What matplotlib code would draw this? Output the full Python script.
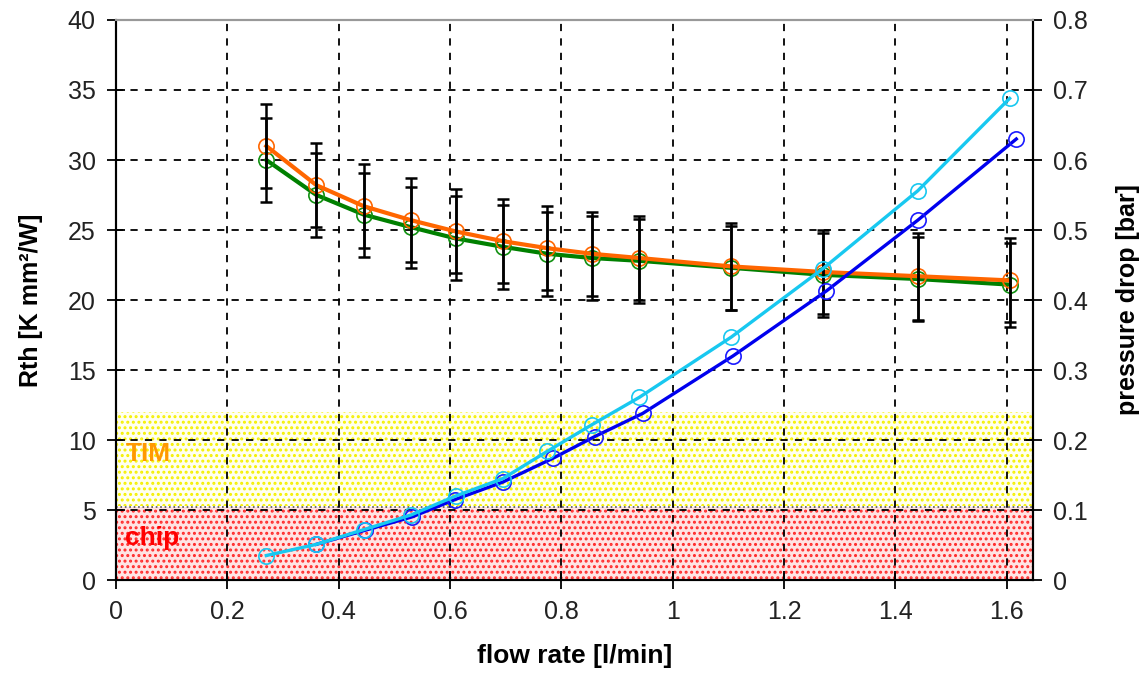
import matplotlib.pyplot as plt

plt.rcParams['font.family'] = ['Liberation Sans', 'DejaVu Sans']
plt.rcParams['hatch.linewidth'] = 1.4

# flow rate [l/min]
flow = [0.27, 0.36, 0.445, 0.53, 0.61, 0.695, 0.775, 0.855, 0.94, 1.105, 1.27, 1.44, 1.605]
rth_orange = [31.0, 28.2, 26.7, 25.7, 24.9, 24.2, 23.7, 23.3, 23.0, 22.4, 22.0, 21.7, 21.4]
rth_green = [30.0, 27.5, 26.1, 25.2, 24.4, 23.8, 23.3, 23.0, 22.8, 22.3, 21.8, 21.5, 21.1]
err_orange = [3.0, 3.0, 3.0, 3.0, 3.0, 3.0, 3.0, 3.0, 3.0, 3.1, 3.0, 3.1, 3.0]
err_green = [3.0, 3.0, 3.0, 2.9, 3.0, 3.0, 3.0, 3.0, 3.0, 3.0, 3.0, 3.0, 3.0]

# pressure drop [bar]
flow_cyan = flow
dp_cyan = [0.035, 0.051, 0.072, 0.093, 0.12, 0.145, 0.184, 0.222, 0.261, 0.347, 0.445, 0.556, 0.688]
flow_blue = [0.36, 0.447, 0.531, 0.609, 0.695, 0.785, 0.86, 0.946, 1.108, 1.276, 1.44, 1.617]
dp_blue = [0.051, 0.071, 0.09, 0.115, 0.14, 0.174, 0.205, 0.238, 0.32, 0.413, 0.514, 0.63]

xticks = [0, 0.2, 0.4, 0.6, 0.8, 1.0, 1.2, 1.4, 1.6]
xticklabels = ['0', '0.2', '0.4', '0.6', '0.8', '1', '1.2', '1.4', '1.6']
yticks = [0, 5, 10, 15, 20, 25, 30, 35, 40]
y2ticks = [0, 0.1, 0.2, 0.3, 0.4, 0.5, 0.6, 0.7, 0.8]
y2ticklabels = ['0', '0.1', '0.2', '0.3', '0.4', '0.5', '0.6', '0.7', '0.8']

# shaded regions (Rth)
chip_band = (0, 5.2)
tim_band = (5.3, 12.0)

fig = plt.figure(figsize=(11.46, 6.87), dpi=100)
ax = fig.add_axes([0.1012, 0.1557, 0.8002, 0.8152])
ax2 = ax.twinx()

ax.axhspan(*chip_band, facecolor='#ffe4e4', edgecolor='#ff2a2a', hatch='...', linewidth=0, zorder=0.5)
ax.axhspan(*tim_band, facecolor='#fffff0', edgecolor='#f5f000', hatch='...', linewidth=0, zorder=0.5)
ax.axhline(chip_band[1], color='#555555', linestyle=':', linewidth=1.2, zorder=0.6)
ax.text(0.017, 9.0, 'TIM', color='#ff9900', fontsize=19, fontweight='bold', va='center', zorder=5)
ax.text(0.017, 3.0, 'chip', color='#ff0000', fontsize=19, fontweight='bold', va='center', zorder=5)

ax.errorbar(flow, rth_green, yerr=err_green, fmt='none', ecolor='black', elinewidth=1.8,
            capsize=4, capthick=1.8, zorder=4)
ax.errorbar(flow, rth_orange, yerr=err_orange, fmt='none', ecolor='black', elinewidth=1.8,
            capsize=4, capthick=1.8, zorder=4)
ax.plot(flow, rth_green, color='#008000', linewidth=3, marker='o', markersize=11,
        markerfacecolor='none', markeredgecolor='#109010', markeredgewidth=1.2, zorder=3)
ax.plot(flow, rth_orange, color='#ff6600', linewidth=3, marker='o', markersize=11,
        markerfacecolor='none', markeredgecolor='#ff6600', markeredgewidth=1.2, zorder=3)

ax2.plot(flow_blue, dp_blue, color='#0000ee', linewidth=2.4, marker='o', markersize=11,
         markerfacecolor='none', markeredgecolor='#1a1aff', markeredgewidth=1.2)
ax2.plot(flow_cyan, dp_cyan, color='#18c8f0', linewidth=2.4, marker='o', markersize=11,
         markerfacecolor='none', markeredgecolor='#18c8f0', markeredgewidth=1.2)

ax.set_xlim(0, 1.647)
ax.set_ylim(0, 40)
ax2.set_ylim(0, 0.8)
ax.set_xticks(xticks)
ax.set_xticklabels(xticklabels)
ax.set_yticks(yticks)
ax2.set_yticks(y2ticks)
ax2.set_yticklabels(y2ticklabels)

ax.grid(True, color='black', linestyle=(0, (4, 4)), linewidth=1.3)
ax.tick_params(direction='inout', length=13, width=1.3, labelsize=18, pad=8, colors='black',
               labelcolor='#222222')
ax2.tick_params(direction='inout', length=13, width=1.3, labelsize=18, pad=8, labelcolor='#222222')

for a in (ax, ax2):
    a.spines['top'].set_color('#999999')
    a.spines['top'].set_linewidth(1.5)
    a.spines['left'].set_linewidth(1.5)
    a.spines['right'].set_linewidth(1.5)
    a.spines['bottom'].set_linewidth(1.5)

ax.set_xlabel('flow rate [l/min]', fontsize=19, fontweight='bold', labelpad=14)
ax.set_ylabel('Rth [K mm²/W]', fontsize=18, fontweight='bold', labelpad=18)
ax2.set_ylabel('pressure drop [bar]', fontsize=18, fontweight='bold', labelpad=20)

fig.savefig('out.png', dpi=100)
